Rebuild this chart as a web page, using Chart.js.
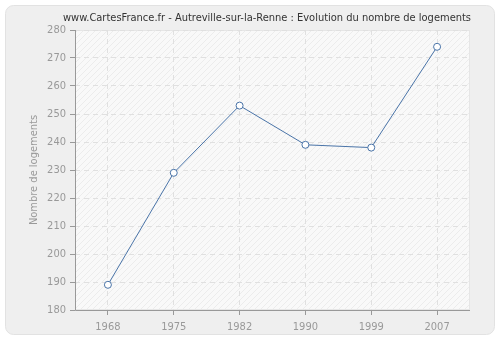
<!DOCTYPE html>
<html>
<head>
<meta charset="utf-8">
<script src="https://cdn.jsdelivr.net/npm/chart.js@4"></script>
<style>
  html, body { margin: 0; padding: 0; background: #ffffff; }
  #wrap { width: 500px; height: 340px; }
</style>
</head>
<body>
<div id="wrap"><canvas id="chart" width="500" height="340"></canvas></div>
<script>
const titleText = "www.CartesFrance.fr - Autreville-sur-la-Renne : Evolution du nombre de logements";
const years = ["1968", "1975", "1982", "1990", "1999", "2007"];
const logements = [189, 229, 253, 239, 238, 274];
const yMin = 180;
const yMax = 280;
const yStep = 10;

const fontFamily = "'DejaVu Sans Condensed', 'DejaVu Sans', sans-serif";

function hatchPattern(ctx) {
  const c = document.createElement("canvas");
  c.width = 6;
  c.height = 6;
  const p = c.getContext("2d");
  p.fillStyle = "#f9f9f9";
  p.fillRect(0, 0, 6, 6);
  p.strokeStyle = "#ececec";
  p.lineWidth = 1;
  p.beginPath();
  p.moveTo(0, 6);
  p.lineTo(6, 0);
  p.moveTo(-1, 1);
  p.lineTo(1, -1);
  p.moveTo(5, 7);
  p.lineTo(7, 5);
  p.stroke();
  return ctx.createPattern(c, "repeat");
}

const backdrop = {
  id: "backdrop",
  beforeDraw(chart) {
    const { ctx, chartArea: a } = chart;
    ctx.save();
    // outer panel
    ctx.fillStyle = "#efefef";
    ctx.strokeStyle = "#e2e2e2";
    ctx.lineWidth = 1;
    ctx.beginPath();
    ctx.roundRect(5.5, 5.5, 489, 329, 8);
    ctx.fill();
    ctx.stroke();
    // plot area
    ctx.fillStyle = hatchPattern(ctx);
    ctx.fillRect(a.left, a.top, a.right - a.left, a.bottom - a.top);
    ctx.strokeStyle = "#e6e6e6";
    ctx.strokeRect(a.left + 0.5, a.top + 0.5, a.right - a.left - 1, a.bottom - a.top - 1);
    ctx.restore();
  },
  afterDraw(chart) {
    const { ctx, chartArea: a } = chart;
    ctx.save();
    ctx.font = "11px " + fontFamily;
    ctx.fillStyle = "#333333";
    ctx.textAlign = "center";
    ctx.textBaseline = "middle";
    ctx.fillText(titleText, 267, 18);
    // axis lines drawn solid
    ctx.strokeStyle = "#999999";
    ctx.lineWidth = 1;
    ctx.beginPath();
    ctx.moveTo(a.left + 0.5, a.top);
    ctx.lineTo(a.left + 0.5, a.bottom + 0.5);
    ctx.lineTo(a.right, a.bottom + 0.5);
    ctx.stroke();
    ctx.restore();
  }
};

new Chart(document.getElementById("chart"), {
  type: "line",
  data: {
    labels: years,
    datasets: [{
      data: logements,
      borderColor: "#4a74a8",
      borderWidth: 1,
      backgroundColor: "#ffffff",
      pointBackgroundColor: "#ffffff",
      pointBorderColor: "#4a74a8",
      pointBorderWidth: 1,
      pointRadius: 3.5,
      tension: 0,
      fill: false
    }]
  },
  options: {
    responsive: false,
    animation: false,
    layout: { padding: { top: 30, right: 30, left: 0, bottom: 0 } },
    plugins: {
      legend: { display: false },
      title: { display: false },
      tooltip: { enabled: false }
    },
    scales: {
      x: {
        offset: true,
        afterFit(scale) { scale.height = 30; },
        border: { display: false, dash: [5, 4] },
        grid: {
          offset: false,
          color: "#e0e0e0",
          drawTicks: true,
          tickLength: 5,
          tickColor: "#999999",
          tickBorderDash: []
        },
        ticks: {
          color: "#999999",
          padding: 6,
          maxRotation: 0,
          font: { family: fontFamily, size: 11 }
        }
      },
      y: {
        min: yMin,
        max: yMax,
        afterFit(scale) { scale.width = 75; },
        border: { display: false, dash: [5, 4] },
        grid: {
          color: "#e0e0e0",
          drawTicks: true,
          tickLength: 5,
          tickColor: "#999999",
          tickBorderDash: []
        },
        ticks: {
          stepSize: yStep,
          color: "#999999",
          padding: 4,
          font: { family: fontFamily, size: 11 }
        },
        title: {
          display: true,
          text: "Nombre de logements",
          color: "#999999",
          padding: { top: 28, bottom: 0 },
          font: { family: fontFamily, size: 11 }
        }
      }
    }
  },
  plugins: [backdrop]
});
</script>
</body>
</html>
